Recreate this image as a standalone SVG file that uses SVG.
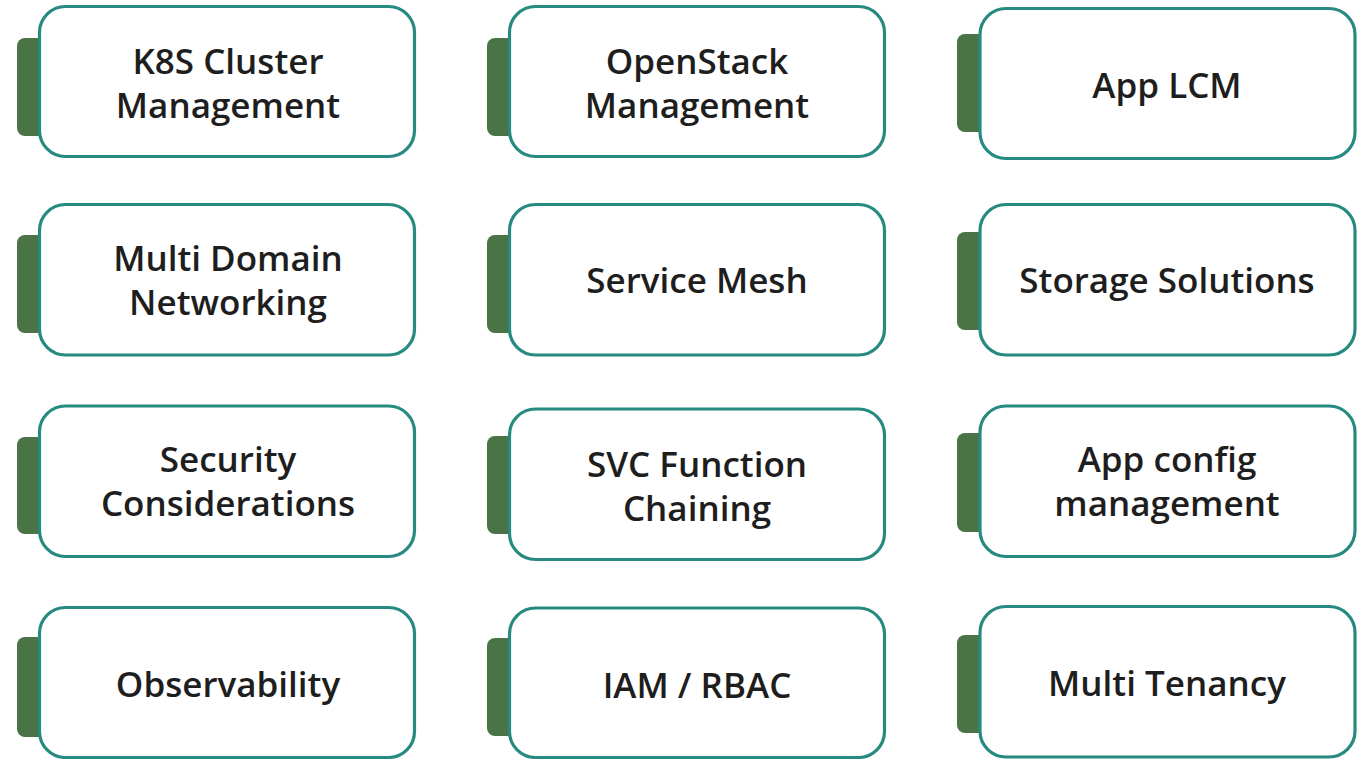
<svg xmlns="http://www.w3.org/2000/svg" width="1361" height="759" viewBox="0 0 1361 759">
<style>
.tab{fill:#4a7346;}
.card{fill:#ffffff;stroke:#268a80;stroke-width:3.2;}
.lbl{font-family:"Open Sans","Noto Sans",sans-serif;font-weight:600;font-size:35px;fill:#1e1e1e;text-anchor:middle;}
</style>
<rect width="1361" height="759" fill="#ffffff"/>
<g id="k8s">
<rect class="tab" x="17" y="38" width="40" height="98" rx="8"/>
<rect class="card" x="39.5" y="6.5" width="375" height="150" rx="26"/>
<text class="lbl" x="228" y="74">K8S Cluster</text>
<text class="lbl" x="228" y="118">Management</text>
</g>
<g id="openstack">
<rect class="tab" x="487" y="38" width="40" height="98" rx="8"/>
<rect class="card" x="509.5" y="6.5" width="375" height="150" rx="26"/>
<text class="lbl" x="697" y="74">OpenStack</text>
<text class="lbl" x="697" y="118">Management</text>
</g>
<g id="applcm">
<rect class="tab" x="957" y="34" width="40" height="98" rx="8"/>
<rect class="card" x="980" y="8.5" width="375" height="150" rx="26"/>
<text class="lbl" x="1167" y="98">App LCM</text>
</g>
<g id="mdn">
<rect class="tab" x="17" y="235" width="40" height="98" rx="8"/>
<rect class="card" x="39.5" y="204.5" width="375" height="150.5" rx="26"/>
<text class="lbl" x="228" y="271">Multi Domain</text>
<text class="lbl" x="228" y="315">Networking</text>
</g>
<g id="servicemesh">
<rect class="tab" x="487" y="235" width="40" height="98" rx="8"/>
<rect class="card" x="509.5" y="204.5" width="375" height="150.5" rx="26"/>
<text class="lbl" x="697" y="293">Service Mesh</text>
</g>
<g id="storage">
<rect class="tab" x="957" y="232" width="40" height="98" rx="8"/>
<rect class="card" x="980" y="204.5" width="375" height="150.5" rx="26"/>
<text class="lbl" x="1167" y="293">Storage Solutions</text>
</g>
<g id="security">
<rect class="tab" x="17" y="437" width="40" height="97" rx="8"/>
<rect class="card" x="39.5" y="406" width="375" height="150.5" rx="26"/>
<text class="lbl" x="228" y="472">Security</text>
<text class="lbl" x="228" y="516">Considerations</text>
</g>
<g id="sfc">
<rect class="tab" x="487" y="436" width="40" height="98" rx="8"/>
<rect class="card" x="509.5" y="409" width="375" height="150.5" rx="26"/>
<text class="lbl" x="697" y="477">SVC Function</text>
<text class="lbl" x="697" y="521">Chaining</text>
</g>
<g id="appconfig">
<rect class="tab" x="957" y="433" width="40" height="99" rx="8"/>
<rect class="card" x="980" y="406" width="375" height="150.5" rx="26"/>
<text class="lbl" x="1167" y="472">App config</text>
<text class="lbl" x="1167" y="516">management</text>
</g>
<g id="observability">
<rect class="tab" x="17" y="637" width="40" height="100" rx="8"/>
<rect class="card" x="39.5" y="607.5" width="375" height="150" rx="26"/>
<text class="lbl" x="228" y="697">Observability</text>
</g>
<g id="iam">
<rect class="tab" x="487" y="638" width="40" height="98" rx="8"/>
<rect class="card" x="509.5" y="608" width="375" height="149.5" rx="26"/>
<text class="lbl" x="697" y="698">IAM / RBAC</text>
</g>
<g id="tenancy">
<rect class="tab" x="957" y="635" width="40" height="98" rx="8"/>
<rect class="card" x="980" y="606.5" width="375" height="150.5" rx="26"/>
<text class="lbl" x="1167" y="696">Multi Tenancy</text>
</g>
<g id="connectors"></g>
</svg>
